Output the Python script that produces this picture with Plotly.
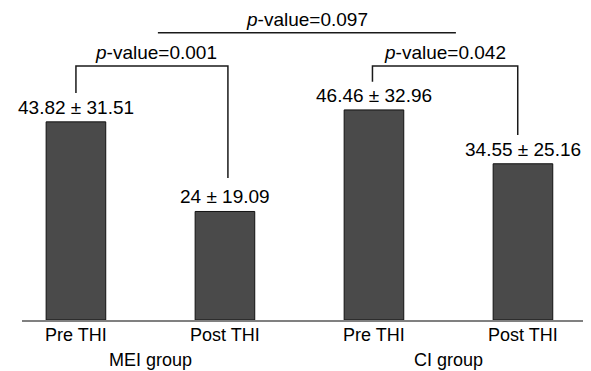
import plotly.graph_objects as go

categories = ["Pre THI", "Post THI", "Pre THI", "Post THI"]
groups = ["MEI group", "CI group"]
means = [43.82, 24.0, 46.46, 34.55]
sds = [31.51, 19.09, 32.96, 25.16]
mean_labels = ["43.82", "24", "46.46", "34.55"]

# brackets: (left x, right x, left foot y, right foot y, top y, label x, p-value)
pairs = [
    (0.0, 1.02, 50.2, 31.4, 56.2, 0.54, "0.001"),
    (1.99, 2.965, 52.7, 40.9, 56.2, 2.48, "0.042"),
]
overall_p = "0.097"
overall_y = 63.5
overall_x = [0.55, 2.55]

FONT = "Liberation Sans, Arial, sans-serif"
x = [0, 1, 2, 3]

fig = go.Figure()
fig.add_trace(go.Bar(
    x=x, y=means, width=0.4,
    marker=dict(color="#4a4a4a", line=dict(color="#111111", width=1)),
    showlegend=False, hoverinfo="skip",
))

for xi, m, lab, sd in zip(x, means, mean_labels, sds):
    fig.add_annotation(x=xi, y=m, xref="x", yref="y", text=f"{lab} ± {sd:.2f}",
                       showarrow=False, yanchor="bottom", yshift=2,
                       font=dict(family=FONT, size=19, color="black"))

for xa, xb, ya, yb, top, xl, p in pairs:
    fig.add_trace(go.Scatter(
        x=[xa, xa, xb, xb], y=[ya, top, top, yb],
        mode="lines", line=dict(color="#1a1a1a", width=1.5),
        showlegend=False, hoverinfo="skip",
    ))
    fig.add_annotation(x=xl, y=top, xref="x", yref="y",
                       text=f"<i>p</i>-value={p}", showarrow=False,
                       yanchor="bottom", yshift=1,
                       font=dict(family=FONT, size=19, color="black"))

fig.add_trace(go.Scatter(
    x=overall_x, y=[overall_y, overall_y], mode="lines",
    line=dict(color="#1a1a1a", width=1.5), showlegend=False, hoverinfo="skip",
))
fig.add_annotation(x=sum(overall_x) / 2, y=overall_y, xref="x", yref="y",
                   text=f"<i>p</i>-value={overall_p}", showarrow=False,
                   yanchor="bottom", yshift=1,
                   font=dict(family=FONT, size=19, color="black"))

for xi, c in zip(x, categories):
    fig.add_annotation(x=xi, y=0, xref="x", yref="paper", text=c,
                       showarrow=False, yanchor="middle", yshift=-15,
                       font=dict(family=FONT, size=18, color="black"))

for gi, g in enumerate(groups):
    fig.add_annotation(x=2 * gi + 0.5, y=0, xref="x", yref="paper", text=g,
                       showarrow=False, yanchor="middle", yshift=-40,
                       font=dict(family=FONT, size=18, color="black"))

# page has an 8px body margin; figure sized so the page is filled
fig.update_layout(
    width=583, height=363,
    margin=dict(l=14, r=8, t=0, b=51),
    plot_bgcolor="white", paper_bgcolor="white",
    xaxis=dict(range=[-0.362, 3.403], showticklabels=False,
               showline=True, linecolor="#808080", linewidth=1.5, ticks="",
               showgrid=False, zeroline=False),
    yaxis=dict(range=[0, 69.0], visible=False, showgrid=False, zeroline=False),
)

fig.write_html("out.html")
